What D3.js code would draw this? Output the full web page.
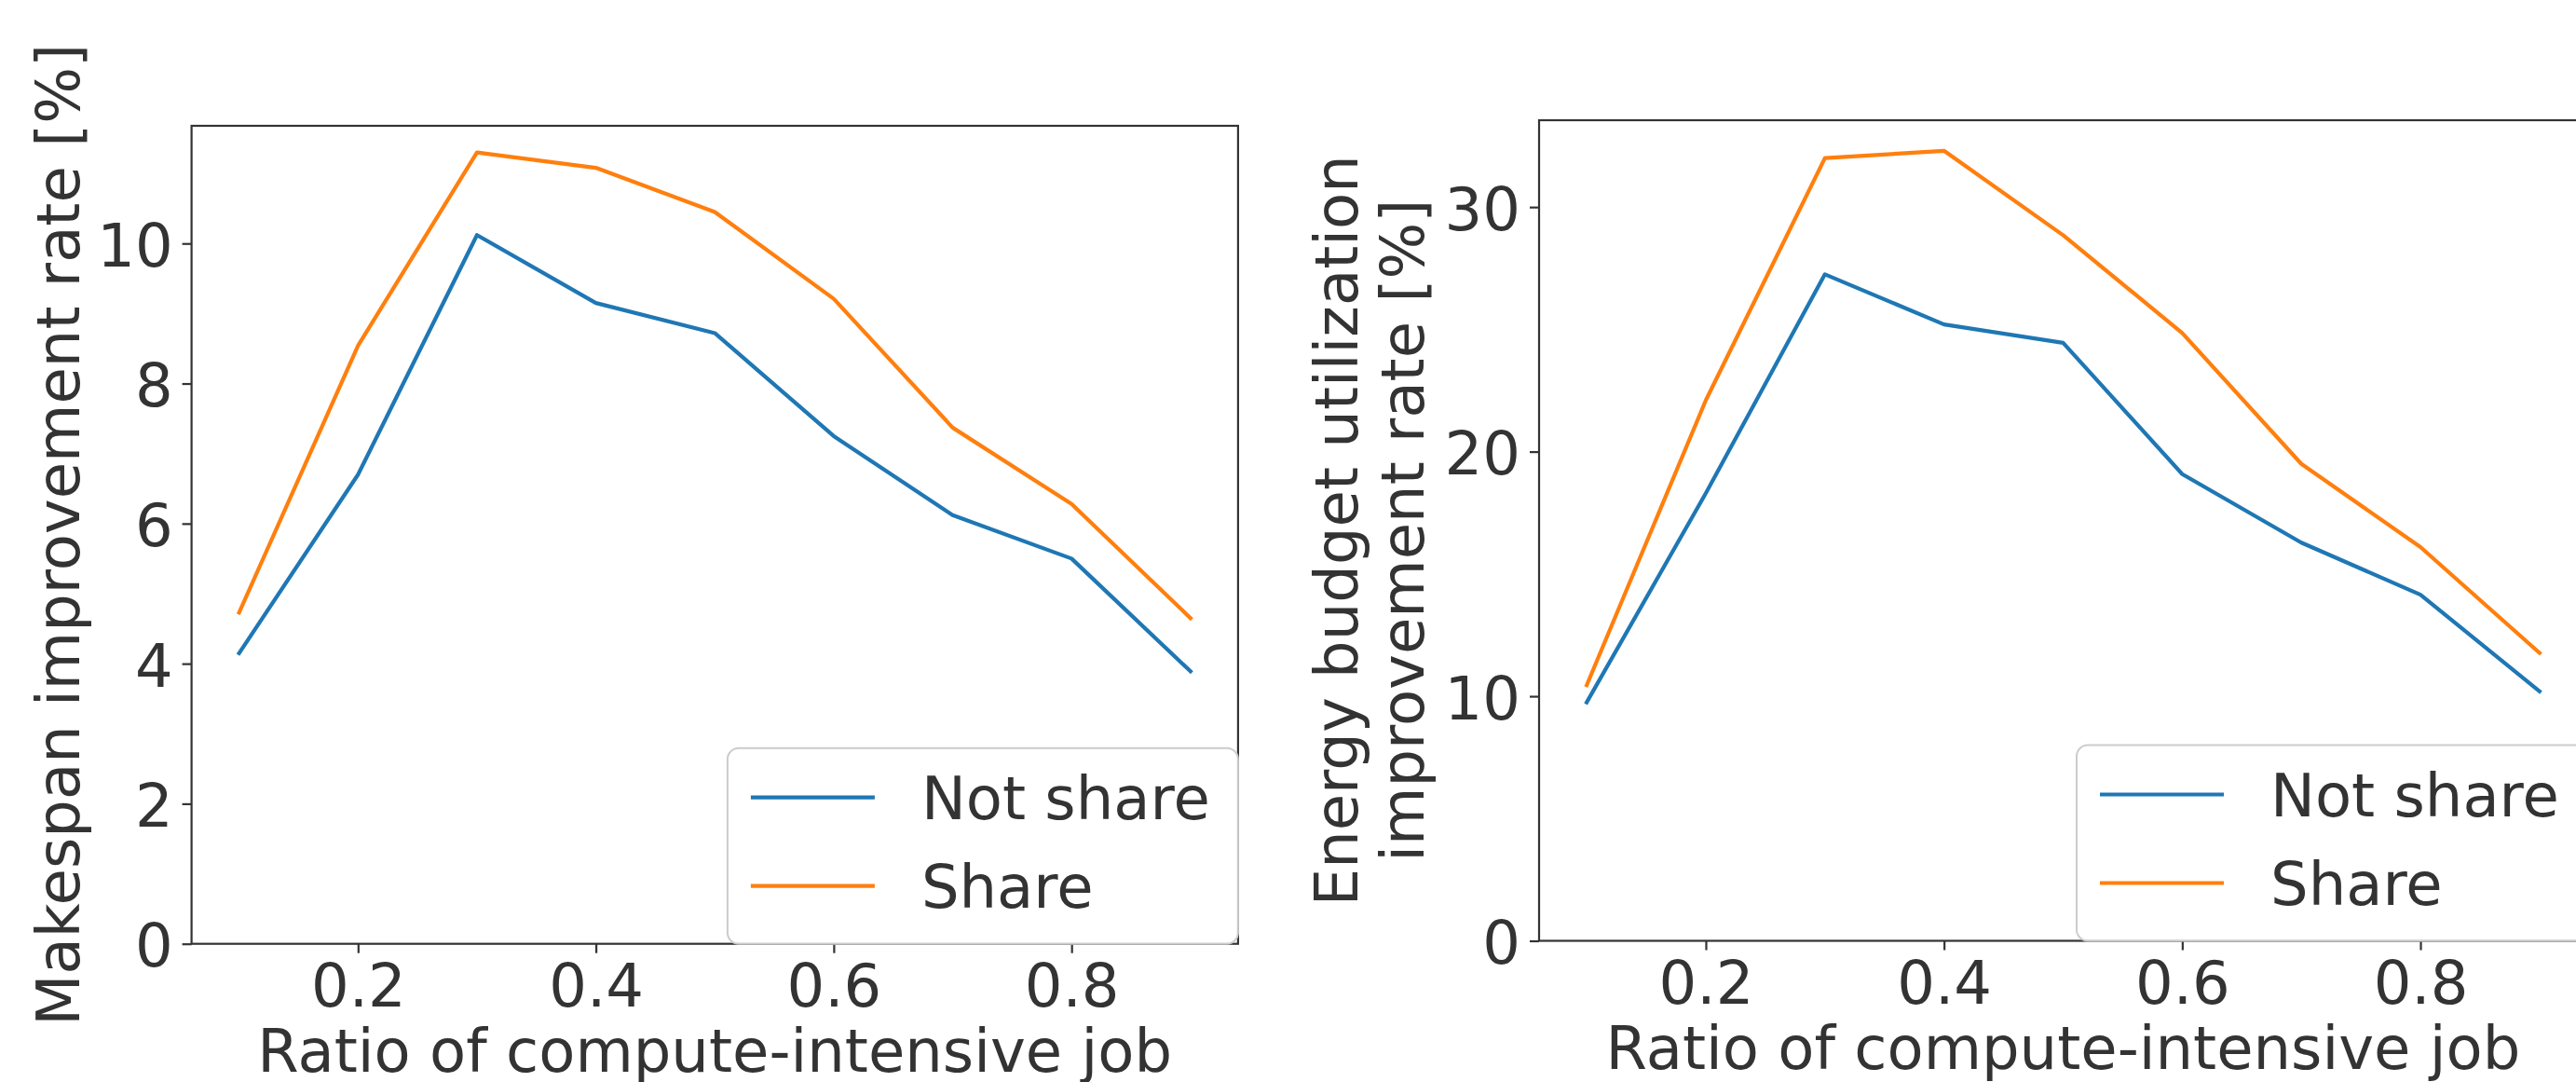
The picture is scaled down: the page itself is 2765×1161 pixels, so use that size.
<!DOCTYPE html>
<html>
<head>
<meta charset="utf-8">
<script src="https://cdn.jsdelivr.net/npm/d3@7"></script>
<style>
  body { margin: 0; background: #fff; overflow: hidden; }
  svg text { font-family: 'DejaVu Sans', sans-serif; fill: #333; }
</style>
</head>
<body>
<div id="chart"></div>
<script>
// Data
const ratios = [0.1, 0.2, 0.3, 0.4, 0.5, 0.6, 0.7, 0.8, 0.9];
const seriesNames = ['Not share', 'Share'];

const makespanNotShare = [4.15, 6.7, 10.12, 9.15, 8.72, 7.25, 6.12, 5.5, 3.89];
const makespanShare = [4.73, 8.54, 11.3, 11.08, 10.45, 9.21, 7.37, 6.28, 4.65];

const energyNotShare = [9.75, 18.3, 27.25, 25.2, 24.45, 19.08, 16.28, 14.15, 10.2];
const energyShare = [10.45, 22.1, 32.0, 32.3, 28.85, 24.85, 19.5, 16.1, 11.77];

const xTicks = [0.2, 0.4, 0.6, 0.8];
const makespanTicks = [0, 2, 4, 6, 8, 10];
const energyTicks = [0, 10, 20, 30];

const colors = ['#1f77b4', '#ff7f0e'];
const fontSize = 64;

const svg = d3
  .select('#chart')
  .append('svg')
  .attr('width', 2765)
  .attr('height', 1161);

function drawPanel(opts) {
  const x = d3.scaleLinear().domain([0.06, 0.94]).range([opts.left, opts.right]);
  const y = d3.scaleLinear().domain([0, opts.yMax]).range([opts.bottom, opts.top]);
  const g = svg.append('g');

  // Lines
  const line = d3
    .line()
    .x((d, i) => x(ratios[i]))
    .y((d) => y(d));
  opts.series.forEach((s, i) => {
    g.append('path')
      .datum(s)
      .attr('d', line)
      .attr('fill', 'none')
      .attr('stroke', colors[i])
      .attr('stroke-width', 4.2)
      .attr('stroke-linejoin', 'round')
      .attr('stroke-linecap', 'square');
  });

  // Frame
  g.append('rect')
    .attr('x', opts.left)
    .attr('y', opts.top)
    .attr('width', opts.right - opts.left)
    .attr('height', opts.bottom - opts.top)
    .attr('fill', 'none')
    .attr('stroke', '#333')
    .attr('stroke-width', 2.2);

  // X axis
  const xAxis = g
    .append('g')
    .attr('transform', 'translate(0,' + opts.bottom + ')')
    .call(d3.axisBottom(x).tickValues(xTicks).tickSize(10).tickPadding(12).tickFormat(d3.format('.1f')));
  xAxis.select('.domain').remove();
  xAxis.selectAll('line').attr('stroke', '#333').attr('stroke-width', 2.2);
  xAxis.selectAll('text').style('font-size', fontSize + 'px').attr('fill', '#333');

  // Y axis
  const yAxis = g
    .append('g')
    .attr('transform', 'translate(' + opts.left + ',0)')
    .call(d3.axisLeft(y).tickValues(opts.yTicks).tickSize(10).tickPadding(10).tickFormat(d3.format('d')));
  yAxis.select('.domain').remove();
  yAxis.selectAll('line').attr('stroke', '#333').attr('stroke-width', 2.2);
  yAxis.selectAll('text').style('font-size', fontSize + 'px').attr('fill', '#333').attr('dy', '0.375em');

  // X label
  g.append('text')
    .attr('x', (opts.left + opts.right) / 2)
    .attr('y', opts.bottom + 137)
    .attr('text-anchor', 'middle')
    .style('font-size', fontSize + 'px')
    .text('Ratio of compute-intensive job');

  // Y label (one text per line)
  const cy = (opts.top + opts.bottom) / 2;
  opts.yLabel.forEach((t, i) => {
    g.append('text')
      .attr('transform', 'translate(' + opts.yLabelX[i] + ',' + cy + ') rotate(-90)')
      .attr('text-anchor', 'middle')
      .style('font-size', fontSize + 'px')
      .text(t);
  });

  // Legend, lower right, flush with the frame
  const lw = 548, lh = 210;
  const lx = opts.right - lw, ly = opts.bottom - lh;
  const legend = g.append('g').attr('transform', 'translate(' + lx + ',' + ly + ')');
  legend
    .append('rect')
    .attr('width', lw)
    .attr('height', lh)
    .attr('rx', 12)
    .attr('fill', '#fff')
    .attr('fill-opacity', 0.8)
    .attr('stroke', '#ccc')
    .attr('stroke-width', 2);
  seriesNames.forEach((name, i) => {
    const ry = 53 + i * 95;
    legend
      .append('line')
      .attr('x1', 25)
      .attr('x2', 158)
      .attr('y1', ry)
      .attr('y2', ry)
      .attr('stroke', colors[i])
      .attr('stroke-width', 4.2);
    legend
      .append('text')
      .attr('x', 208)
      .attr('y', ry)
      .attr('dy', '0.36em')
      .style('font-size', fontSize + 'px')
      .text(name);
  });
}

drawPanel({
  left: 205.6,
  right: 1328.9,
  top: 135,
  bottom: 1012.7,
  yMax: 11.68,
  yTicks: makespanTicks,
  series: [makespanNotShare, makespanShare],
  yLabel: ['Makespan improvement rate [%]'],
  yLabelX: [85],
});

drawPanel({
  left: 1652,
  right: 2777,
  top: 129,
  bottom: 1009.5,
  yMax: 33.55,
  yTicks: energyTicks,
  series: [energyNotShare, energyShare],
  yLabel: ['Energy budget utilization', 'improvement rate [%]'],
  yLabelX: [1457, 1528],
});
</script>
</body>
</html>
